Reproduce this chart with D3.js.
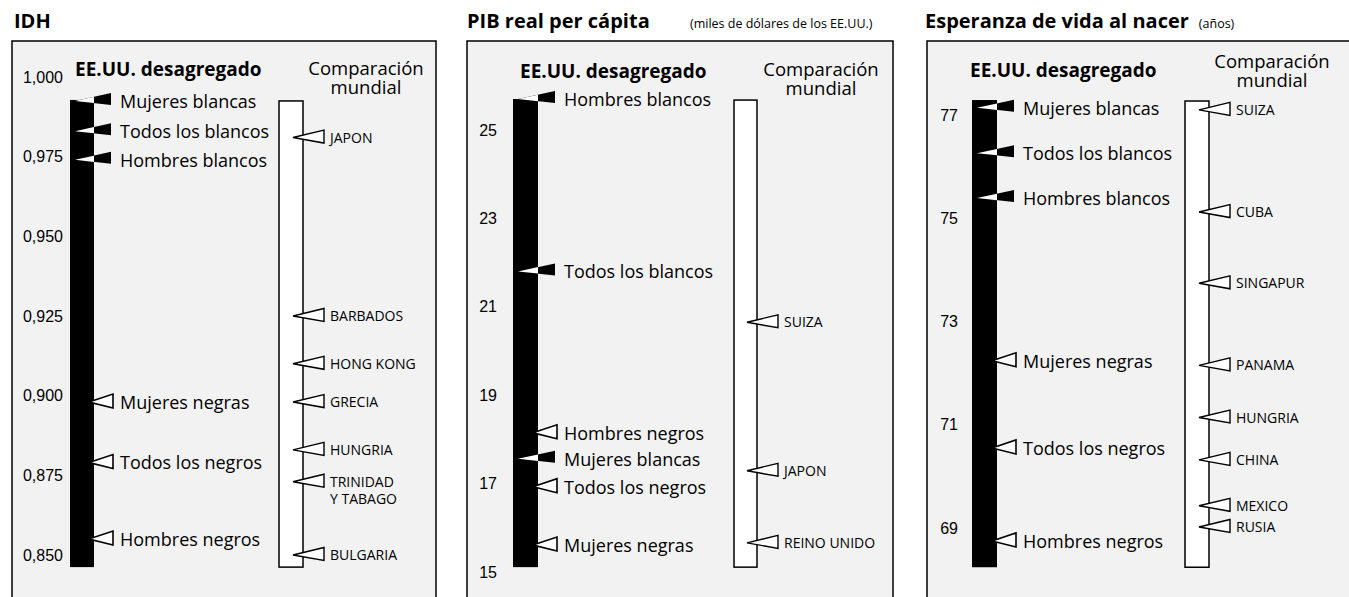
<!DOCTYPE html>
<html>
<head>
<meta charset="utf-8">
<script src="https://cdn.jsdelivr.net/npm/d3@7"></script>
<style>
body { margin: 0; background: #fff; }
svg { display: block; font-family: "Open Sans", Roboto, sans-serif; }
</style>
</head>
<body>
<svg id="chart" width="1349" height="597"></svg>
<script>
// ---- data ----
var titles = ["IDH", "PIB real per cápita", "Esperanza de vida al nacer"];
var subtitles = ["", "(miles de dólares de los EE.UU.)", "(años)"];

// IDH
var idhTicks = [1.000, 0.975, 0.950, 0.925, 0.900, 0.875, 0.850];
var idhGroups = ["Mujeres blancas", "Todos los blancos", "Hombres blancos", "Mujeres negras", "Todos los negros", "Hombres negros"];
var idhGroupValues = [0.9925, 0.983, 0.974, 0.898, 0.879, 0.855];
var idhCountries = ["JAPON", "BARBADOS", "HONG KONG", "GRECIA", "HUNGRIA", "TRINIDAD\nY TABAGO", "BULGARIA"];
var idhCountryValues = [0.981, 0.925, 0.910, 0.898, 0.883, 0.873, 0.850];
var idhBar = [0.8462, 0.9928];

// PIB real per capita (miles de dolares)
var pibTicks = [25, 23, 21, 19, 17, 15];
var pibGroups = ["Hombres blancos", "Todos los blancos", "Hombres negros", "Mujeres blancas", "Todos los negros", "Mujeres negras"];
var pibGroupValues = [25.70, 21.80, 18.15, 17.56, 16.93, 15.61];
var pibCountries = ["SUIZA", "JAPON", "REINO UNIDO"];
var pibCountryValues = [20.65, 17.29, 15.66];
var pibBar = [15.11, 25.70];

// Esperanza de vida (anos)
var vidaTicks = [77, 75, 73, 71, 69];
var vidaGroups = ["Mujeres blancas", "Todos los blancos", "Hombres blancos", "Mujeres negras", "Todos los negros", "Hombres negros"];
var vidaGroupValues = [77.14, 76.26, 75.39, 72.24, 70.55, 68.75];
var vidaCountries = ["SUIZA", "CUBA", "SINGAPUR", "PANAMA", "HUNGRIA", "CHINA", "MEXICO", "RUSIA"];
var vidaCountryValues = [77.10, 75.12, 73.74, 72.15, 71.14, 70.32, 69.43, 69.02];
var vidaBar = [68.24, 77.29];

var esLocale = d3.formatLocale({decimal: ",", thousands: ".", grouping: [3], currency: ["", ""]});

var panels = [
  {ticks: idhTicks, fmt: esLocale.format(".3f"), groups: idhGroups, groupValues: idhGroupValues,
   countries: idhCountries, countryValues: idhCountryValues, bar: idhBar,
   titleX: 14, subX: 0, x0: 12, x1: 436, yTop: 77, yBot: 555, tickX: 63,
   bL: 70, bR: 94, wL: 279, wR: 303, headX: 75, headY: 76, compX: 366, compY: 75},
  {ticks: pibTicks, fmt: esLocale.format("d"), groups: pibGroups, groupValues: pibGroupValues,
   countries: pibCountries, countryValues: pibCountryValues, bar: pibBar,
   titleX: 467, subX: 690, x0: 467, x1: 893, yTop: 130, yBot: 572, tickX: 497,
   bL: 513, bR: 538, wL: 734, wR: 757, headX: 520, headY: 78, compX: 821, compY: 76},
  {ticks: vidaTicks, fmt: esLocale.format("d"), groups: vidaGroups, groupValues: vidaGroupValues,
   countries: vidaCountries, countryValues: vidaCountryValues, bar: vidaBar,
   titleX: 925, subX: 1190, x0: 927, x1: 1360, yTop: 115, yBot: 528, tickX: 958,
   bL: 972, bR: 997, wL: 1185, wR: 1209, headX: 970, headY: 77, compX: 1272, compY: 68}
];

var svg = d3.select("#chart");
var defs = svg.append("defs");

// tip at (tipX, y), base a bit higher than the tip like the printed arrows
function triangle(tipX, baseX, y, h, lift) {
  var c = y - lift;
  return "M" + tipX + "," + y + "L" + baseX + "," + (c - h) + "L" + baseX + "," + (c + h) + "Z";
}

panels.forEach(function(p, i) {
  var g = svg.append("g");
  var y = d3.scaleLinear()
    .domain([p.ticks[0], p.ticks[p.ticks.length - 1]])
    .range([p.yTop, p.yBot]);

  // title
  var tt = g.append("text")
    .attr("x", p.titleX).attr("y", 28)
    .style("font-weight", "bold").style("font-size", "20px")
    .text(titles[i]);
  if (subtitles[i]) {
    var titleEnd = p.titleX + tt.node().getComputedTextLength();
    g.append("text")
      .attr("x", Math.max(p.subX, titleEnd + 10)).attr("y", 28)
      .style("font-size", "12.5px")
      .text(subtitles[i]);
  }

  // frame
  g.append("rect")
    .attr("x", p.x0).attr("y", 41)
    .attr("width", p.x1 - p.x0).attr("height", 600)
    .attr("fill", "#f2f2f2").attr("stroke", "#000").attr("stroke-width", 1.5);

  // headers
  g.append("text")
    .attr("x", p.headX).attr("y", p.headY)
    .style("font-weight", "bold").style("font-size", "19px")
    .text("EE.UU. desagregado");
  var comp = g.append("text")
    .attr("text-anchor", "middle").style("font-size", "18.5px");
  comp.append("tspan").attr("x", p.compX).attr("y", p.compY).text("Comparación");
  comp.append("tspan").attr("x", p.compX).attr("y", p.compY + 19).text("mundial");

  // axis
  var axis = d3.axisLeft(y).tickValues(p.ticks).tickSize(0).tickPadding(0).tickFormat(p.fmt);
  var ax = g.append("g").attr("transform", "translate(" + p.tickX + ",0)").call(axis);
  ax.select(".domain").remove();
  ax.selectAll("text").style("font-size", "16px").attr("font-family", null).attr("fill", "#000");

  // black US bar
  var barTop = y(p.bar[1]), barBot = y(p.bar[0]);
  g.append("rect")
    .attr("x", p.bL).attr("y", barTop)
    .attr("width", p.bR - p.bL).attr("height", barBot - barTop)
    .attr("fill", "#000");

  defs.append("clipPath").attr("id", "barclip" + i)
    .append("rect")
    .attr("x", p.bL).attr("y", barTop - 10)
    .attr("width", p.bR - p.bL).attr("height", barBot - barTop + 20);

  // white comparison bar
  g.append("rect")
    .attr("x", p.wL).attr("y", barTop + 1)
    .attr("width", p.wR - p.wL).attr("height", barBot - barTop - 1)
    .attr("fill", "#fff").attr("stroke", "#000").attr("stroke-width", 1.5);

  // US group markers
  p.groups.forEach(function(name, j) {
    var yy = y(p.groupValues[j]);
    var white = /blanc/.test(name);
    if (white) {
      var d = triangle(p.bL + 5, p.bR + 17, yy, 6, 2);
      g.append("path").attr("d", d).attr("fill", "#000");
      g.append("path").attr("d", d).attr("fill", "#fff").attr("clip-path", "url(#barclip" + i + ")");
    } else {
      g.append("path").attr("d", triangle(p.bR - 5, p.bR + 19, yy, 7, 1))
        .attr("fill", "#fff").attr("stroke", "#000").attr("stroke-width", 1.6);
    }
    g.append("text")
      .attr("x", p.bR + 26).attr("y", yy).attr("dy", "0.38em")
      .style("font-size", "18px")
      .text(name);
  });

  // country markers
  p.countries.forEach(function(name, j) {
    var yy = y(p.countryValues[j]);
    g.append("path").attr("d", triangle(p.wR - 10, p.wR + 21, yy, 6.5, 1))
      .attr("fill", "#fff").attr("stroke", "#000").attr("stroke-width", 1.4);
    var t = g.append("text").style("font-size", "14px");
    name.split("\n").forEach(function(line, k) {
      t.append("tspan")
        .attr("x", p.wR + 27).attr("y", yy + k * 17).attr("dy", "0.36em")
        .text(line);
    });
  });
});
</script>
</body>
</html>
